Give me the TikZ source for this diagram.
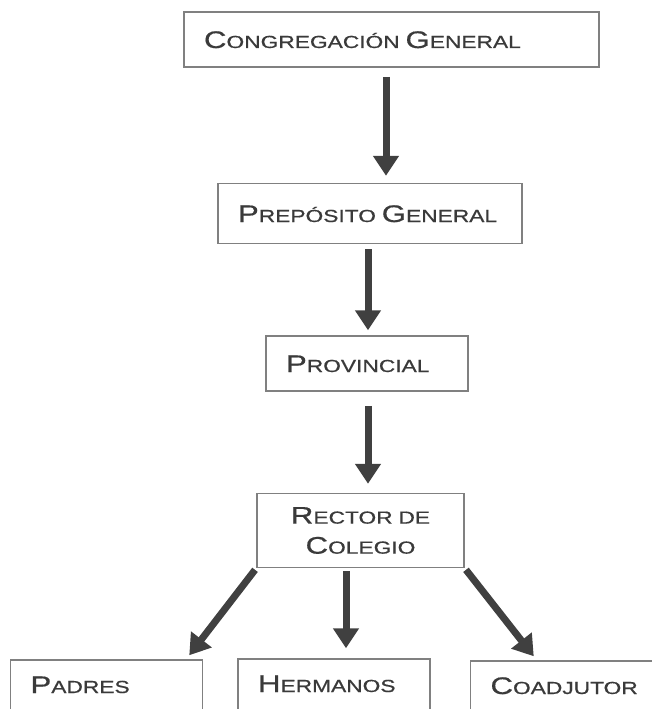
\documentclass[tikz,border=0pt]{standalone}
\usepackage{fontspec}
\usepackage{tikz}
\usetikzlibrary{arrows.meta,positioning}
\newfontfamily\orgfont[FakeStretch=1.3,FakeBold=0.6]{Liberation Sans}
\definecolor{OrgInk}{HTML}{3A3A3A}
\definecolor{OrgLine}{HTML}{808080}
\definecolor{OrgArrow}{HTML}{404040}
\newcommand\initcap[1]{{\fontsize{24pt}{24pt}\selectfont #1}}

\begin{document}
\begin{tikzpicture}[
  orgbox/.style={draw=OrgLine,line width=1.5pt,fill=white,text=OrgInk,align=left,inner xsep=20pt,inner ysep=0pt,text height=17pt,text depth=0pt,font=\orgfont\fontsize{17.5pt}{30pt}\selectfont},
  lowbox/.style={orgbox,minimum height=62pt,text depth=13pt},
  arr/.style={draw=OrgArrow,line width=7pt,-{Triangle[width=25pt,length=20pt]}},
]
\useasboundingbox (0,0) rectangle (651pt,-709pt);
\node[orgbox,text width=375pt,minimum height=55pt] (cg) at (391.5pt,-39.5pt) {\initcap{C}ONGREGACIÓN \initcap{G}ENERAL};
\node[orgbox,text width=264pt,minimum height=60pt,below=115pt of cg,xshift=-21.5pt] (pg) {\initcap{P}REPÓSITO \initcap{G}ENERAL};
\node[orgbox,text width=162pt,minimum height=55pt,below=91pt of pg,xshift=-3pt] (prov) {\initcap{P}ROVINCIAL};
\node[orgbox,text width=167pt,minimum height=74pt,align=center,text height=,text depth=,below=101pt of prov,xshift=-6.5pt] (rector) {\initcap{R}ECTOR DE\\\initcap{C}OLEGIO};
\node[lowbox,text width=152pt,below=90pt of rector,xshift=-26.5pt] (herm) {\initcap{H}ERMANOS};
\node[lowbox,text width=152pt,left=34pt of herm,yshift=-1pt] (padres) {\initcap{P}ADRES};
\node[lowbox,text width=150pt,right=39pt of herm,yshift=-2pt] (coad) {\initcap{C}OADJUTOR};

\draw[arr,shorten <=9pt,shorten >=7pt] ([xshift=-5.5pt]cg.south) -- ([xshift=16pt]pg.north);
\draw[arr,shorten <=5pt,shorten >=5pt] ([xshift=-2pt]pg.south) -- ([xshift=1pt]prov.north);
\draw[arr,shorten <=14pt,shorten >=9pt] ([xshift=1pt]prov.south) -- ([xshift=7.5pt]rector.north);
\draw[arr,shorten <=3pt,shorten >=10pt] ([xshift=-14.5pt]rector.south) -- ([xshift=12pt]herm.north);
\draw[arr,shorten <=2pt] (rector.south west) -- ([xshift=-14pt,yshift=4pt]padres.north east);
\draw[arr,shorten <=2pt] (rector.south east) -- ([xshift=64pt,yshift=4pt]coad.north west);
\end{tikzpicture}
\end{document}
